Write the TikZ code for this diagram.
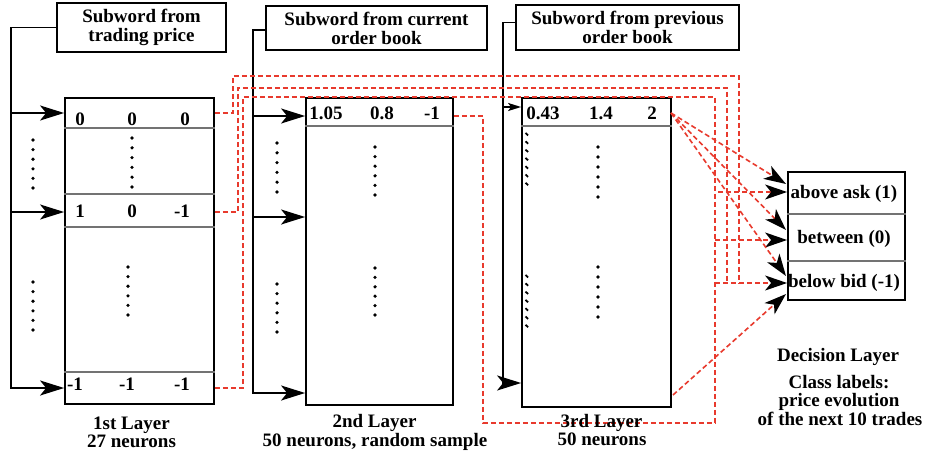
\documentclass[tikz,border=0pt]{standalone}
\usepackage{fontspec}
\setmainfont{Liberation Serif}
\usetikzlibrary{arrows.meta,calc}
\definecolor{dred}{RGB}{232,58,45}
\begin{document}
\begin{tikzpicture}[x=1pt,y=-1pt,
  font=\fontsize{19}{19}\selectfont\bfseries,
  box/.style={draw,line width=1.8pt,inner sep=0pt},
  titlebox/.style={draw,line width=1.8pt,inner sep=0pt,align=center},
  sepline/.style={draw=black!55,line width=1.2pt},
  feed/.style={line width=1.7pt},
  bigarr/.style={feed,-{Stealth[length=24pt,width=15pt,inset=6pt]}},
  smallarr/.style={feed,-{Stealth[length=13pt,width=8pt,inset=3pt]}},
  rline/.style={draw=dred,line width=1.6pt,dash pattern=on 5pt off 3pt},
  rarr/.style={rline,-{Stealth[length=22pt,width=15pt,inset=6pt,black]}},
  num/.style={anchor=base,inner sep=0pt},
  lbl/.style={anchor=base,inner sep=0pt}
]
\useasboundingbox[fill=white] (0,0) rectangle (928,452);

% ---------- boxes
\node[titlebox,minimum width=169,minimum height=49] (T1) at (141.5,27.5) {Subword from\\trading price};
\node[titlebox,minimum width=221,minimum height=44] (T2) at (376.5,28) {Subword from current\\order book};
\node[titlebox,minimum width=223,minimum height=45] (T3) at (627.5,27.5) {Subword from previous\\order book};

\node[box,minimum width=149,minimum height=306] (L1) at (139.5,251) {};
\node[box,minimum width=147,minimum height=307] (L2) at (379.5,251.5) {};
\node[box,minimum width=149,minimum height=309] (L3) at (596.5,252.5) {};
\node[box,minimum width=117,minimum height=128] (D) at (846.5,236) {};

% separators
\foreach \yy in {128,194,227,372} \draw[sepline] (L1.west |- 0,\yy) -- (L1.east |- 0,\yy);
\draw[sepline] (L2.west |- 0,126) -- (L2.east |- 0,126);
\draw[sepline] (L3.west |- 0,126) -- (L3.east |- 0,126);
\draw[sepline] (D.west |- 0,214) -- (D.east |- 0,214);
\draw[sepline] (D.west |- 0,261) -- (D.east |- 0,261);

% ---------- feeders
\coordinate (j11) at (11,113);
\coordinate (j12) at (11,212);
\coordinate (j13) at (11,388);
\draw[bigarr] (T1.west) -| (j13) -- (j13 -| L1.west);
\draw[bigarr] (j11) -- (j11 -| L1.west);
\draw[bigarr] (j12) -- (j12 -| L1.west);

\coordinate (j21) at (253,116);
\coordinate (j22) at (253,217);
\coordinate (j23) at (253,393);
\draw[bigarr] ($(T2.west)+(0,2)$) -| (j23) -- (j23 -| L2.west);
\draw[bigarr] (j21) -- (j21 -| L2.west);
\draw[bigarr] (j22) -- (j22 -| L2.west);

\coordinate (j31) at (503,107);
\coordinate (j32) at (503,383);
\draw[bigarr] ($(T3.west)+(0,-5)$) -| (j32) -- (j32 -| L3.west);
\draw[smallarr] (j31) -- (j31 -| L3.west);

% ---------- dots
\foreach \xx/\ya/\yb in {33/140/188, 33/282/330, 277/143/192, 277/284/332,
    132/138/187, 128/267/315, 375/147/195, 375/268/315, 598/147/197, 598/267/317}
  \foreach \k in {0,...,5} \fill (\xx,{\ya+\k*(\yb-\ya)/5}) circle (1.8pt);
\foreach \ya in {133,275}
  \foreach \k in {0,...,6} \draw[line width=1.8pt] (525.5,{\ya+\k*8.3}) -- ++(2.6,2.4);

% ---------- red dashed connections
\coordinate (a1) at (233,76);
\coordinate (a2) at (739,283);
\coordinate (b1) at (238,88);
\coordinate (b2) at (727,283);
\coordinate (c1) at (243,97);
\coordinate (c2) at (715,423);
\coordinate (d1) at (483,423);
\draw[rline] (j11 -| L1.east) -| (a1) -| (a2);
\draw[rline] (j12 -| L1.east) -| (b1) -| (b2);
\draw[rline] (j13 -| L1.east) -| (c1) -| (c2);
\draw[rline] (j21 -| L2.east) -| (d1) -- (c2);

\coordinate (h1) at (718,192);
\coordinate (h2) at (715,240);
\coordinate (h3) at (715,283);
\draw[rarr] (h1) -- (h1 -| D.west);
\draw[rarr] (h2) -- (h2 -| D.west);
\draw[rarr] (h3) -- (h3 -| D.west);

\coordinate (s3) at (671,113);
\coordinate (s4) at (673,395);
\coordinate (t1) at (786,184);
\coordinate (t2) at (786,230);
\coordinate (t3) at (786,276);
\coordinate (t4) at (786,294);
\draw[rarr] (s3) -- (t1);
\draw[rarr] (s3) -- (t2);
\draw[rarr] (s3) -- (t3);
\draw[rarr] (s4) -- (t4);

% ---------- numbers
\node[num] (n11) at (80,125) {0};
\node[num] (n12) at (132,125) {0};
\node[num] (n13) at (185,125) {0};
\node[num] (n21) at (80,217) {1};
\node[num] (n22) at (132,217) {0};
\node[num] (n23) at (182,217) {-1};
\node[num] (n31) at (75,390) {-1};
\node[num] (n32) at (127,390) {-1};
\node[num] (n33) at (182,390) {-1};

\node[num] (m1) at (326,119) {1.05};
\node[num] (m2) at (382,119) {0.8};
\node[num] (m3) at (432,119) {-1};

\node[num] (p1) at (543,119) {0.43};
\node[num] (p2) at (601,119) {1.4};
\node[num] (p3) at (652,119) {2};

\node[num] (o1) at (844,198) {above ask (1)};
\node[num] (o2) at (844,243) {between (0)};
\node[num] (o3) at (844,287) {below bid (-1)};

% ---------- labels
\node[lbl] (la1) at (131.5,429) {1st Layer};
\node[lbl] (la2) at (131.5,447) {27 neurons};
\node[lbl] (lb1) at (374.5,427) {2nd Layer};
\node[lbl] (lb2) at (375,446) {50 neurons, random sample};
\node[lbl] (lc1) at (601.5,427) {3rd Layer};
\node[lbl] (lc2) at (602,445) {50 neurons};
\node[lbl] (ld1) at (838,361) {Decision Layer};
\node[lbl] (ld2) at (839,388) {Class labels:};
\node[lbl] (ld3) at (839,406) {price evolution};
\node[lbl] (ld4) at (840,425) {of the next 10 trades};
\end{tikzpicture}
\end{document}
